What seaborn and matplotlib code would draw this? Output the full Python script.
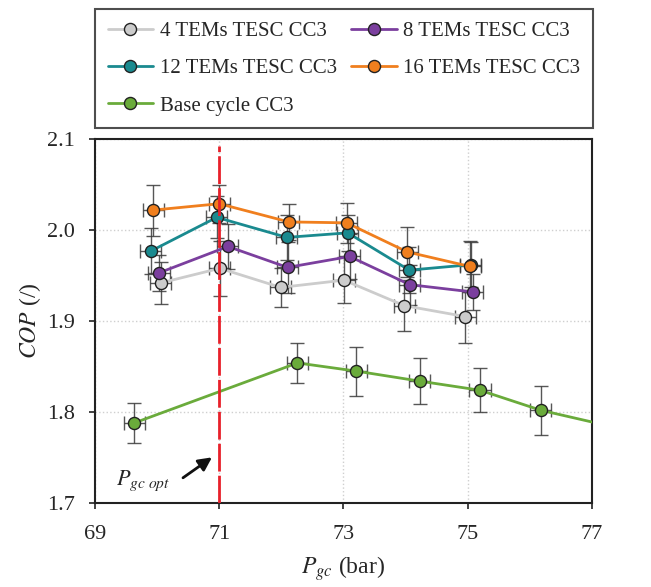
import numpy as np
import pandas as pd
import seaborn as sns
import matplotlib.pyplot as plt
from matplotlib.lines import Line2D

# data
labels = ['4 TEMs TESC CC3', '8 TEMs TESC CC3', '12 TEMs TESC CC3',
          '16 TEMs TESC CC3', 'Base cycle CC3']

p_4 = [70.06, 71.01, 71.99, 73.01, 73.98, 74.96]
cop_4 = [1.942, 1.958, 1.937, 1.945, 1.917, 1.905]
err_4 = [0.023, 0.030, 0.021, 0.025, 0.028, 0.029]

p_8 = [70.03, 71.14, 72.10, 73.10, 74.07, 75.08]
cop_8 = [1.953, 1.982, 1.959, 1.971, 1.940, 1.932]
err_8 = [0.020, 0.025, 0.028, 0.025, 0.022, 0.020]

p_12 = [69.90, 70.96, 72.09, 73.07, 74.06, 75.05]
cop_12 = [1.977, 2.014, 1.992, 1.997, 1.956, 1.962]
err_12 = [0.025, 0.023, 0.025, 0.020, 0.025, 0.025]

p_16 = [69.94, 71.00, 72.12, 73.05, 74.03, 75.04]
cop_16 = [2.022, 2.029, 2.009, 2.008, 1.976, 1.960]
err_16 = [0.028, 0.021, 0.020, 0.022, 0.027, 0.028]

p_base = [69.63, 72.26, 73.21, 74.23, 75.20, 76.18, 77.2]
cop_base = [1.788, 1.854, 1.845, 1.834, 1.824, 1.802, 1.786]
err_base = [0.022, 0.022, 0.027, 0.025, 0.024, 0.027, 0.025]

p_err = 0.17
p_opt = 71

colors = ['#cccccc', '#7b3f9e', '#1a8a8f', '#f07f1e', '#6aab3b']

series = [(p_4, cop_4, err_4), (p_8, cop_8, err_8), (p_12, cop_12, err_12),
          (p_16, cop_16, err_16), (p_base, cop_base, err_base)]

rows = []
for lab, (p, c, e) in zip(labels, series):
    for i in range(len(p)):
        rows.append({'P': p[i], 'COP': c[i], 'err': e[i], 'case': lab})
df = pd.DataFrame(rows)

sns.set_style('ticks')
plt.rcParams['font.family'] = ['Liberation Serif', 'DejaVu Serif']
plt.rcParams['mathtext.fontset'] = 'stix'

fig, ax = plt.subplots(figsize=(6.51, 5.87), dpi=100)
fig.subplots_adjust(left=0.146, right=0.909, top=0.763, bottom=0.143)

ax.grid(True, color='#cfcfcf', linestyle=':', linewidth=1)

for lab, col in zip(labels, colors):
    d = df[df['case'] == lab]
    ax.errorbar(d['P'], d['COP'], xerr=p_err, yerr=d['err'], fmt='none',
                ecolor='#3a3a3a', elinewidth=1, capsize=5, capthick=1,
                alpha=0.85, zorder=3)

sns.lineplot(data=df, x='P', y='COP', hue='case', palette=colors,
             hue_order=labels, sort=False, errorbar=None, marker='o',
             markersize=8.7, markeredgecolor='#222222', markeredgewidth=1,
             linewidth=2, legend=False, ax=ax, zorder=4)

ax.axvline(p_opt, ymin=0, ymax=0.98, color='#e8202a', lw=2,
           dashes=(10, 1.5), zorder=5)

# P_gc opt arrow
ax.annotate('', xy=(70.92, 1.752), xytext=(70.38, 1.726),
            arrowprops=dict(arrowstyle='-|>', color='#111111', lw=2,
                            mutation_scale=20))
ax.text(69.77, 1.724, r'$P_{gc\ opt}$', ha='center', va='center', fontsize=16)

ax.set_xlim(69, 77)
ax.set_ylim(1.7, 2.1)
ax.set_xticks([69, 71, 73, 75, 77])
ax.set_yticks([1.7, 1.8, 1.9, 2.0, 2.1])
ax.set_yticklabels(['1.7', '1.8', '1.9', '2.0', '2.1'])
ax.tick_params(labelsize=16, direction='out', length=4.5, width=1.2,
               color='#222222')
ax.tick_params(axis='x', pad=11)
ax.tick_params(axis='y', pad=10)
ax.set_xlabel(r'$P_{gc}$ (bar)', fontsize=17, labelpad=8)
ax.set_ylabel(r'$COP$ (/)', fontsize=17, labelpad=3)
for s in ax.spines.values():
    s.set_linewidth(1.5)
    s.set_color('#222222')

handles = [Line2D([0], [0], color=c, lw=2, marker='o', markersize=8.7,
                  markeredgecolor='#222222', markeredgewidth=1) for c in colors]
order = [0, 2, 4, 1, 3]
leg = ax.legend([handles[i] for i in order], [labels[i] for i in order],
                ncol=2, loc='lower left', bbox_to_anchor=(0, 1.03, 1.002, 0.3),
                mode='expand', fontsize=15, frameon=True, fancybox=False,
                edgecolor='#222222', borderpad=0.6, labelspacing=0.85,
                handlelength=2.2, handletextpad=0.3, borderaxespad=0)
leg.get_frame().set_linewidth(1.5)

plt.savefig('out.png', dpi=100)
